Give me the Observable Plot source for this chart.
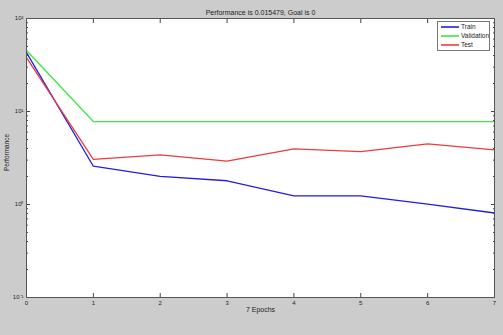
<!DOCTYPE html>
<html>
<head>
<meta charset="utf-8">
<script src="https://cdn.jsdelivr.net/npm/d3@7"></script>
<script src="https://cdn.jsdelivr.net/npm/@observablehq/plot@0.6"></script>
<style>
  html, body { margin: 0; padding: 0; background: #cccccc; }
  #chart svg { display: block; }
</style>
</head>
<body>
<div id="chart"></div>
<script>
const epochs = [0, 1, 2, 3, 4, 5, 6, 7];
const train = [43, 2.58, 2.01, 1.80, 1.24, 1.24, 1.01, 0.81];
const validation = [45.3, 7.8, 7.8, 7.8, 7.8, 7.8, 7.8, 7.8];
const test = [38, 3.05, 3.42, 2.92, 3.97, 3.71, 4.49, 3.87];
const seriesNames = ["Train", "Validation", "Test"];
const seriesColors = ["#1f1fdd", "#3ee83e", "#ee3b3b"];
const majorY = [0.1, 1, 10, 100];
const majorYLabels = ["10\u207B\u00B9", "10\u2070", "10\u00B9", "10\u00B2"];
const minorY = [2,3,4,5,6,7,8,9].flatMap(m => [m / 10, m, m * 10]);
const titleText = "Performance is 0.015479, Goal is 0";
const xLabel = "7 Epochs";
const yLabel = "Performance";

const rows = [];
[train, validation, test].forEach((vals, s) => {
  vals.forEach((v, i) => rows.push({epoch: epochs[i], value: v, series: seriesNames[s]}));
});

const font = "'Liberation Sans', Arial, sans-serif";
const plot = Plot.plot({
  width: 503,
  height: 335,
  marginLeft: 26,
  marginRight: 9,
  marginTop: 18,
  marginBottom: 38,
  style: {background: "#cccccc", fontFamily: font, fontSize: "6px", color: "#222"},
  x: {domain: [0, 7]},
  y: {type: "log", domain: [0.1, 100]},
  color: {domain: seriesNames, range: seriesColors},
  marks: [
    Plot.frame({fill: "white"}),
    Plot.line(rows, {x: "epoch", y: "value", z: "series", stroke: "series", strokeWidth: 1.3}),
    Plot.axisX({anchor: "bottom", ticks: epochs, tickSize: -4, tickPadding: 7, tickFormat: d => d, label: null, stroke: "#444"}),
    Plot.axisX({anchor: "top", ticks: epochs, tickSize: -4, tickFormat: () => "", label: null, stroke: "#444"}),
    Plot.axisY({anchor: "left", ticks: majorY, tickSize: -4, tickPadding: 7, tickFormat: (d, i) => majorYLabels[majorY.indexOf(d)], label: null, stroke: "#444"}),
    Plot.axisY({anchor: "right", ticks: majorY, tickSize: -4, tickFormat: () => "", label: null, stroke: "#444"}),
    Plot.axisY({anchor: "left", ticks: minorY, tickSize: -2, tickFormat: () => "", label: null, stroke: "#444"}),
    Plot.axisY({anchor: "right", ticks: minorY, tickSize: -2, tickFormat: () => "", label: null, stroke: "#444"}),
    Plot.frame({stroke: "#555", strokeWidth: 1}),
    Plot.text([titleText], {frameAnchor: "top", dy: -8, text: d => d, fontSize: 7, fill: "#222"}),
    Plot.text([xLabel], {frameAnchor: "bottom", dy: 14, text: d => d, fontSize: 7, fill: "#222"}),
    Plot.text([yLabel], {frameAnchor: "left", dx: -20, dy: 13, rotate: -90, text: d => d, fontSize: 6.5, fill: "#222"})
  ]
});

// Legend box (MATLAB-style, inside plot top-right)
const svg = d3.select(plot);
const lg = svg.append("g").attr("font-family", font).attr("font-size", 6.5).attr("text-anchor", "start");
lg.append("rect").attr("x", 437.5).attr("y", 21.5).attr("width", 52).attr("height", 29)
  .attr("fill", "white").attr("stroke", "#777");
seriesNames.forEach((name, i) => {
  const y = 27 + i * 9;
  lg.append("line").attr("x1", 441).attr("x2", 459).attr("y1", y).attr("y2", y)
    .attr("stroke", seriesColors[i]).attr("stroke-width", 1.6);
  lg.append("text").attr("x", 461).attr("y", y).attr("dy", "0.35em").attr("fill", "#222")
    .attr("text-anchor", "start").text(name);
});

document.getElementById("chart").appendChild(plot);
</script>
</body>
</html>
